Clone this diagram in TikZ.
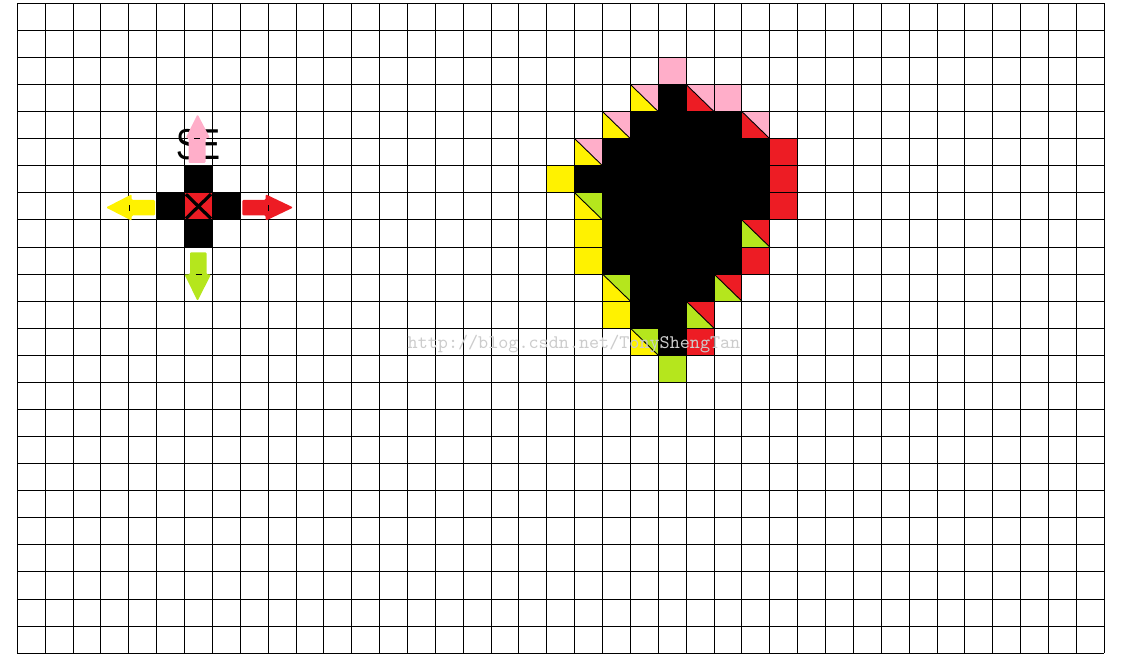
\documentclass[tikz,border=0pt]{standalone}
\usepackage{fontspec}
\newfontfamily\letterfont{Liberation Sans}
\usetikzlibrary{calc}

\definecolor{cYellow}{HTML}{FFF200}
\definecolor{cRed}{HTML}{ED1C24}
\definecolor{cPink}{HTML}{FFAEC9}
\definecolor{cGreen}{HTML}{B5E61D}

\begin{document}
\begin{tikzpicture}[
  x=0.5pt, y=-0.5pt,               % one unit = one pixel of the screen shot
  gridline/.style={line width=0.5pt, draw=black},
  diag/.style={line width=0.45pt, draw=black},
  cross/.style={line width=1.6pt, draw=black},
  tick/.style={line width=0.6pt, draw=black},
  arr/.style={fill=#1, draw=none, rounded corners=0.6pt},
  wmtext/.style={font=\ttfamily\fontsize{9.6}{11}\selectfont, text=black!20, inner sep=0pt}
]
\useasboundingbox (0,0) rectangle (1131,667);

% ================= cells (grid units: 39 x 24) =================
\begin{scope}[shift={(17.3,3.3)}, x=13.935pt, y=-13.54pt]

  % ---- black blob ----
  \foreach \r/\a/\b in {3/23/23, 4/22/25, 5/21/26, 6/20/26, 7/21/26,
                        8/21/25, 9/21/25, 10/22/24, 11/22/23, 12/23/23}
    {\fill[black] (\a,\r) rectangle (\b+1,\r+1);}

  % ---- full coloured cells ----
  \foreach \c/\r/\col in {23/2/cPink, 25/3/cPink,
                          19/6/cYellow, 20/8/cYellow, 20/9/cYellow, 21/11/cYellow,
                          27/5/cRed, 27/6/cRed, 27/7/cRed, 26/9/cRed, 24/12/cRed,
                          23/13/cGreen}
    {\fill[\col] (\c,\r) rectangle ++(1,1);}

  % ---- half cells: lower-left / upper-right ----
  \foreach \c/\r/\lo/\up in {22/3/cYellow/cPink, 24/3/cRed/cPink,
                             21/4/cYellow/cPink, 26/4/cRed/cPink,
                             20/5/cYellow/cPink, 20/7/cYellow/cGreen,
                             26/8/cGreen/cRed, 21/10/cYellow/cGreen,
                             25/10/cGreen/cRed, 24/11/cGreen/cRed,
                             22/12/cYellow/cGreen}
    {\fill[\lo] (\c,\r) -- (\c,\r+1) -- (\c+1,\r+1) -- cycle;
     \fill[\up] (\c,\r) -- (\c+1,\r) -- (\c+1,\r+1) -- cycle;
     \draw[diag] (\c,\r) -- (\c+1,\r+1);}

  % ---- small cross ----
  \foreach \c/\r in {6/6, 5/7, 7/7, 6/8}
    {\fill[black] (\c,\r) rectangle ++(1,1);}
  \fill[cRed] (6,7) rectangle ++(1,1);

  % ---- grid ----
  \foreach \i in {0,...,39} {\draw[gridline] (\i,0) -- (\i,24);}
  \foreach \j in {0,...,24} {\draw[gridline] (0,\j) -- (39,\j);}

  \draw[cross] (6.05,7.05) -- (6.95,7.95);
  \draw[cross] (6.95,7.05) -- (6.05,7.95);
\end{scope}

% ================= label under the up arrow =================
\node[inner sep=0pt, anchor=base west, font=\letterfont\fontsize{21.6}{24}\selectfont]
  (se) at (176.5,160) {\scalebox{0.76}[1]{SE}};

% ================= direction arrows =================
% left
\fill[arr=cYellow] (106,207.5) -- (131.7,194.3) -- (131.7,200) -- (155,200)
  -- (155,215.5) -- (131.7,215.5) -- (131.7,220.7) -- cycle;
\draw[tick] (129.3,205.5) -- (129.3,211);
% right
\fill[arr=cRed] (293.3,207.5) -- (265.7,194.3) -- (265.7,200) -- (242.3,200)
  -- (242.3,215.5) -- (265.7,215.5) -- (265.7,220.7) -- cycle;
\draw[tick] (268.3,205.5) -- (268.3,211);
% down
\fill[arr=cGreen] (197.6,301) -- (184.3,274.3) -- (190,274.3) -- (190,252.3)
  -- (206.5,252.3) -- (206.5,274.3) -- (211,274.3) -- cycle;
\draw[tick] (195.7,274.3) -- (201.7,274.3);
% up
\fill[arr=cPink] (197.6,114.3) -- (185.7,138) -- (188.5,138) -- (188.5,163)
  -- (205.7,163) -- (205.7,138) -- (210,138) -- cycle;
\draw[tick] (194,138.3) -- (199.5,138.3);

% ================= watermark =================
\node[wmtext] (wm) at (574,344) {http://blog.csdn.net/TonyShengTan};

\end{tikzpicture}
\end{document}
